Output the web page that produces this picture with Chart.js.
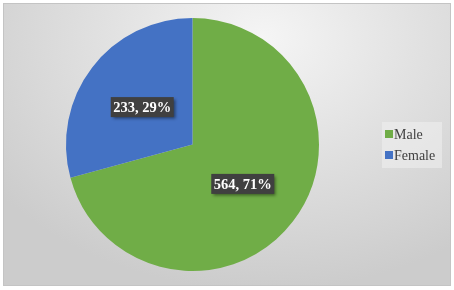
<!DOCTYPE html>
<html>
<head>
<meta charset="utf-8">
<script src="https://cdn.jsdelivr.net/npm/chart.js@4/dist/chart.umd.min.js"></script>
<style>
  html, body { margin: 0; padding: 0; background: #fff; }
  #frame {
    position: absolute; left: 3px; top: 3px; width: 446px; height: 281px;
    border: 1px solid #c4c4c4;
    background: radial-gradient(ellipse 75% 90% at 58% 12%, #f5f5f5 0%, #e2e2e2 45%, #d2d2d2 85%, #cccccc 100%);
  }
  #wrap { position: absolute; left: 0; top: 0; width: 454px; height: 290px; }
</style>
</head>
<body>
<div id="frame"></div>
<div id="wrap"><canvas id="pieChart" width="454" height="290"></canvas></div>
<script>
// Gender split
const labels = ["Male", "Female"];
const counts = [564, 233];

const colors = ["#70AD47", "#4472C4"];
const total = counts.reduce((a, b) => a + b, 0);

// data labels: "value, pct%" in dark boxes
const boxLabels = {
    id: "boxLabels",
    afterDatasetsDraw(chart) {
        const ctx = chart.ctx;
        const meta = chart.getDatasetMeta(0);
        ctx.save();
        ctx.font = "bold 14.5px 'Liberation Serif', 'Times New Roman', serif";
        ctx.textAlign = "center";
        ctx.textBaseline = "middle";
        meta.data.forEach((arc, i) => {
            const p = arc.tooltipPosition();
            const txt = counts[i] + ", " + Math.round(counts[i] / total * 100) + "%";
            const w = ctx.measureText(txt).width + 5;
            const h = 20;
            ctx.shadowColor = "rgba(0,0,0,0.45)";
            ctx.shadowBlur = 3;
            ctx.shadowOffsetX = 2;
            ctx.shadowOffsetY = 2;
            ctx.fillStyle = "#404040";
            ctx.fillRect(p.x - w / 2, p.y - h / 2 + 1, w, h);
            ctx.shadowColor = "transparent";
            ctx.fillStyle = "#ffffff";
            ctx.fillText(txt, p.x, p.y + 2);
        });
        ctx.restore();
    }
};

// legend on the right
const sideLegend = {
    id: "sideLegend",
    afterDraw(chart) {
        const ctx = chart.ctx;
        ctx.save();
        ctx.fillStyle = "rgba(240,240,240,0.55)";
        ctx.fillRect(382, 122, 60, 46);
        ctx.font = "14px 'Liberation Serif', 'Times New Roman', serif";
        ctx.textBaseline = "middle";
        labels.forEach((lab, i) => {
            const y = 134 + i * 21;
            ctx.fillStyle = colors[i];
            ctx.fillRect(385, y - 4, 8, 8);
            ctx.fillStyle = "#404040";
            ctx.fillText(lab, 394, y + 1);
        });
        ctx.restore();
    }
};

new Chart(document.getElementById("pieChart"), {
    type: "pie",
    data: {
        labels: labels,
        datasets: [{
            data: counts,
            backgroundColor: colors,
            borderWidth: 0
        }]
    },
    options: {
        responsive: false,
        animation: false,
        layout: { padding: { left: 66, right: 135, top: 18, bottom: 19 } },
        plugins: {
            legend: { display: false },
            tooltip: { enabled: false }
        }
    },
    plugins: [boxLabels, sideLegend]
});
</script>
</body>
</html>
